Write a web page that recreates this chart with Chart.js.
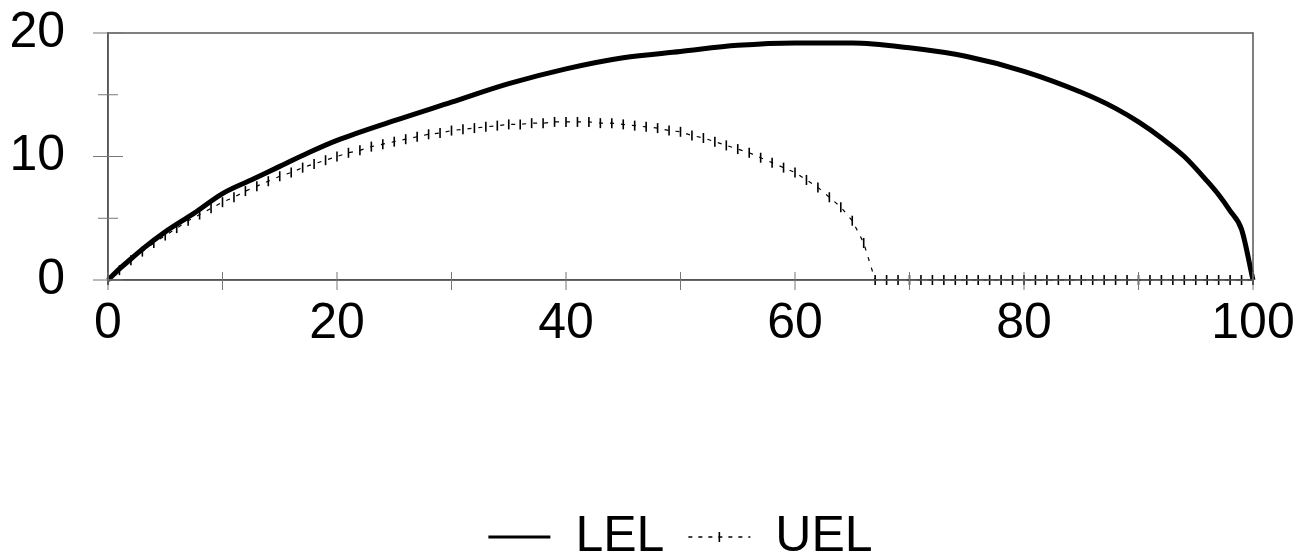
<!DOCTYPE html>
<html>
<head>
<meta charset="utf-8">
<script src="https://cdn.jsdelivr.net/npm/chart.js@4.4.1/dist/chart.umd.min.js"></script>
<style>
  html, body { margin: 0; padding: 0; background: #fff; }
  #wrap { width: 1306px; height: 558px; }
</style>
</head>
<body>
<div id="wrap"><canvas id="chart"></canvas></div>
<script>
// LEL curve
const lelX = [0, 1, 2, 3, 5, 7.5, 10, 12.5, 15, 17.5, 20, 25, 30, 35, 40, 45, 50, 55, 60, 65, 70, 75, 80, 85, 88, 90, 92, 94, 96, 97, 98, 99, 100];
const lelY = [0, 0.9, 1.7, 2.5, 3.9, 5.4, 7.0, 8.1, 9.2, 10.3, 11.3, 12.9, 14.4, 15.9, 17.1, 18.0, 18.5, 19.0, 19.2, 19.2, 18.8, 18.1, 16.9, 15.2, 13.9, 12.8, 11.5, 10.0, 8.0, 6.9, 5.6, 4.1, 0];

// UEL, one value for each x = 0..100
const uelY = [
  0, 0.8, 1.6, 2.3, 3.0, 3.6, 4.2, 4.8, 5.3, 5.8,
  6.3, 6.7, 7.2, 7.6, 8.0, 8.4, 8.7, 9.1, 9.4, 9.7,
  10.0, 10.3, 10.5, 10.8, 11.0, 11.2, 11.4, 11.6, 11.8, 11.9,
  12.1, 12.2, 12.3, 12.4, 12.5, 12.6, 12.6, 12.7, 12.7, 12.8,
  12.8, 12.8, 12.8, 12.7, 12.7, 12.6, 12.5, 12.4, 12.3, 12.1,
  12.0, 11.7, 11.5, 11.2, 10.9, 10.6, 10.3, 9.9, 9.5, 9.1,
  8.7, 8.1, 7.5, 6.7, 5.9, 4.8, 3.0, 0, 0, 0,
  0, 0, 0, 0, 0, 0, 0, 0, 0, 0,
  0, 0, 0, 0, 0, 0, 0, 0, 0, 0,
  0, 0, 0, 0, 0, 0, 0, 0, 0, 0,
  0
];

const seriesNames = ["LEL", "UEL"];
const xTickLabels = [0, 20, 40, 60, 80, 100];
const yTickLabels = [0, 10, 20];

const FONT = "'Liberation Sans', Arial, sans-serif";
const AXIS = "#555";
const LEGEND_PAD = 24;

// frame + ticks that cross the axes, the way the original draws them
const framePlugin = {
  id: "frame",
  afterDraw(chart) {
    const { ctx, chartArea: a, scales } = chart;
    ctx.save();
    ctx.strokeStyle = AXIS;
    ctx.lineWidth = 1.5;
    ctx.strokeRect(a.left, a.top, a.right - a.left, a.bottom - a.top);

    ctx.strokeStyle = "#777";
    ctx.lineWidth = 1;
    scales.x.ticks.forEach(t => {
      const px = scales.x.getPixelForValue(t.value);
      ctx.beginPath();
      ctx.moveTo(px, a.bottom - 8);
      ctx.lineTo(px, a.bottom + 10);
      ctx.stroke();
    });
    scales.y.ticks.forEach(t => {
      const py = scales.y.getPixelForValue(t.value);
      const half = t.value % 10 === 0 ? 15 : 10;
      ctx.beginPath();
      ctx.moveTo(a.left - half, py);
      ctx.lineTo(a.left + half, py);
      ctx.stroke();
    });

    // small upright mark in the middle of the UEL legend sample
    const hb = chart.legend.legendHitBoxes[1];
    if (hb) {
      const cx = hb.left + 31;
      const cy = hb.top + hb.height / 2;
      ctx.strokeStyle = "#000";
      ctx.lineWidth = 1.6;
      ctx.beginPath();
      ctx.moveTo(cx, cy - 5);
      ctx.lineTo(cx, cy + 5);
      ctx.stroke();
    }
    ctx.restore();
  }
};

new Chart(document.getElementById("chart"), {
  type: "line",
  data: {
    datasets: [
      {
        label: seriesNames[0],
        data: lelX.map((x, i) => ({ x: x, y: lelY[i] })),
        borderColor: "#000",
        borderWidth: 5,
        pointRadius: 0,
        cubicInterpolationMode: "monotone",
        clip: 6
      },
      {
        label: seriesNames[1],
        data: uelY.map((y, i) => ({ x: i, y: y })),
        borderColor: "#000",
        borderWidth: 1.2,
        borderDash: [4, 7],
        pointStyle: "line",
        rotation: 90,
        pointRadius: 5,
        pointBorderWidth: 1.6,
        pointBorderColor: "#000",
        clip: 6
      }
    ]
  },
  options: {
    responsive: true,
    maintainAspectRatio: false,
    animation: false,
    events: [],
    layout: { padding: { top: 33, right: 53, left: 0, bottom: -14 } },
    scales: {
      x: {
        type: "linear",
        min: 0,
        max: 100,
        grid: { display: false, drawTicks: true, tickLength: 10, tickColor: "rgba(0,0,0,0)" },
        border: { display: true, color: AXIS, width: 1.5 },
        ticks: {
          stepSize: 10,
          autoSkip: false,
          maxRotation: 0,
          padding: 4,
          color: "#000",
          font: { family: FONT, size: 50 },
          callback: v => (xTickLabels.includes(v) ? String(v) : "")
        },
        afterFit(scale) { scale.height = 232 - LEGEND_PAD; }
      },
      y: {
        min: 0,
        max: 20,
        grid: { display: false, drawTicks: true, tickLength: 38, tickColor: "rgba(0,0,0,0)" },
        border: { display: true, color: AXIS, width: 1.5 },
        ticks: {
          stepSize: 5,
          autoSkip: false,
          padding: 5,
          color: "#000",
          font: { family: FONT, size: 50, lineHeight: 1 },
          callback: v => (yTickLabels.includes(v) ? String(v) : "")
        },
        afterFit(scale) { scale.width = 108; }
      }
    },
    plugins: {
      tooltip: { enabled: false },
      legend: {
        position: "bottom",
        fullSize: false,
        labels: {
          usePointStyle: true,
          pointStyleWidth: 62,
          padding: LEGEND_PAD,
          color: "#000",
          font: { family: FONT, size: 50 },
          generateLabels: chart => chart.data.datasets.map((ds, i) => ({
            text: ds.label,
            fillStyle: "#000",
            strokeStyle: "#000",
            lineWidth: i === 0 ? 3 : 1.5,
            lineDash: i === 0 ? [] : [4, 6],
            pointStyle: "line",
            rotation: 0,
            datasetIndex: i,
            hidden: false
          }))
        }
      }
    }
  },
  plugins: [framePlugin]
});
</script>
</body>
</html>
